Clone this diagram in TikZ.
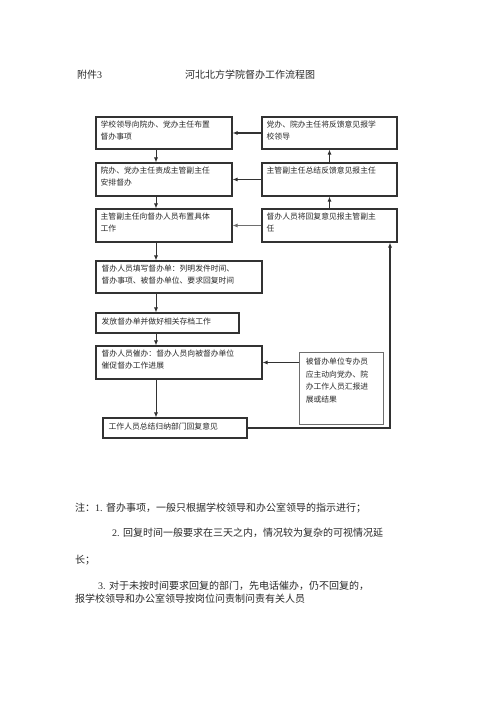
\documentclass[tikz,border=0pt]{standalone}
\usepackage{fontspec}
\setmainfont{Liberation Serif}
\newfontfamily\cjk{Noto Sans CJK SC}
\usetikzlibrary{arrows.meta, positioning, calc}
\definecolor{inkgray}{RGB}{40, 40, 40}
\definecolor{framegray}{RGB}{50, 50, 50}
\definecolor{sidegray}{RGB}{110, 110, 110}

\begin{document}
\begin{tikzpicture}[x=1pt, y=-1pt,
  stepbox/.style={draw=framegray, line width=1.1pt, inner sep=0pt},
  sidebox/.style={draw=sidegray, line width=0.8pt, inner sep=0pt},
  boxtext/.style={anchor=north west, inner sep=0pt, align=left, text=inkgray,
    font=\cjk\fontsize{7.8}{12.6}\selectfont},
  flow/.style={-{Latex[length=5pt, width=4pt]}, line width=0.8pt, framegray},
  report/.style={-{Latex[length=5pt, width=4pt]}, line width=1.4pt, framegray},
  note/.style={anchor=west, inner sep=0pt, text=inkgray, font=\fontsize{10}{12}\selectfont}]
  \useasboundingbox (0,0) rectangle (500,708);

  % Heading
  \node[note] (annex) at (77, 75) {{\cjk 附件}3};
  \node[inner sep=0pt, text=inkgray, font=\cjk\fontsize{10}{12}\selectfont] (title) at (250, 75) {河北北方学院督办工作流程图};

  % Left column
  \node[stepbox, minimum width=136, minimum height=32] (lead) at (164, 133) {};
  \node[boxtext, text width=130] at ($(lead.north west)+(5,4)$) {学校领导向院办、党办主任布置\\督办事项};
  \node[stepbox, minimum width=136, minimum height=33] (assign) at (164, 179.5) {};
  \node[boxtext, text width=130] at ($(assign.north west)+(5,4)$) {院办、党办主任责成主管副主任\\安排督办};
  \node[stepbox, minimum width=136, minimum height=33] (detail) at (164, 225.5) {};
  \node[boxtext, text width=130] at ($(detail.north west)+(5,4)$) {主管副主任向督办人员布置具体\\工作};
  \node[stepbox, minimum width=166, minimum height=32] (form) at (179, 277) {};
  \node[boxtext, text width=160] at ($(form.north west)+(6,4)$) {督办人员填写督办单：列明发件时间、\\督办事项、被督办单位、要求回复时间};
  \node[stepbox, minimum width=143, minimum height=20] (issue) at (167.5, 323) {};
  \node[boxtext, text width=137] at ($(issue.north west)+(6,5)$) {发放督办单并做好相关存档工作};
  \node[stepbox, minimum width=166, minimum height=33] (urge) at (179, 362.5) {};
  \node[boxtext, text width=160] at ($(urge.north west)+(6,4)$) {督办人员催办：督办人员向被督办单位\\催促督办工作进展};
  \node[stepbox, minimum width=144, minimum height=20] (sum) at (175, 428) {};
  \node[boxtext, text width=136] at ($(sum.north west)+(6,5)$) {工作人员总结归纳部门回复意见};

  % Right column
  \node[stepbox, minimum width=135, minimum height=32] (back) at (329.5, 133) {};
  \node[boxtext, text width=128] at ($(back.north west)+(5,4)$) {党办、院办主任将反馈意见报学\\校领导};
  \node[stepbox, minimum width=135, minimum height=33] (feed) at (329.5, 179.5) {};
  \node[boxtext, text width=128] at ($(feed.north west)+(5,4)$) {主管副主任总结反馈意见报主任};
  \node[stepbox, minimum width=135, minimum height=33] (reply) at (329.5, 225.5) {};
  \node[boxtext, text width=128] at ($(reply.north west)+(5,4)$) {督办人员将回复意见报主管副主\\任};
  \node[sidebox, minimum width=84, minimum height=72] (unit) at (341, 388) {};
  \node[boxtext, text width=76] at ($(unit.north west)+(7,6)$) {被督办单位专办员\\应主动向党办、院\\办工作人员汇报进\\展或结果};

  % Connectors
  \coordinate (spine) at (156, 0);
  \coordinate (ret) at (390, 0);
  \draw[flow] (lead.south -| spine) -- (assign.north -| spine);
  \draw[flow] (assign.south -| spine) -- (detail.north -| spine);
  \draw[flow] (detail.south -| spine) -- (form.north -| spine);
  \draw[flow] (form.south -| spine) -- (issue.north -| spine);
  \draw[flow] (issue.south -| spine) -- (urge.north -| spine);
  \draw[flow] (urge.south -| spine) -- (sum.north -| spine);
  \draw[report] (back.west) -- (lead.east);
  \draw[report] (feed.west) -- (assign.east);
  \draw[flow, sidegray] (reply.west) -- (detail.east);
  \draw[report] (feed.north) -- (back.south);
  \draw[report] (reply.north) -- (feed.south);
  \draw[flow] (urge.east -| unit.west) -- (urge.east);
  \draw[flow, line width=1.1pt] (sum.east) -| (reply.south -| ret);

  % Notes
  \node[note] (n1) at (75, 508) {{\cjk 注：}1. {\cjk 督办事项，一般只根据学校领导和办公室领导的指示进行；}};
  \node[note] (n2) at (112, 533) {2. {\cjk 回复时间一般要求在三天之内，情况较为复杂的可视情况延}};
  \node[note] (n3) at (75, 560) {\cjk 长；};
  \node[note] (n4) at (98, 586) {3. {\cjk 对于未按时间要求回复的部门，先电话催办，仍不回复的，}};
  \node[note] (n5) at (75, 599) {\cjk 报学校领导和办公室领导按岗位问责制问责有关人员};
\end{tikzpicture}
\end{document}
